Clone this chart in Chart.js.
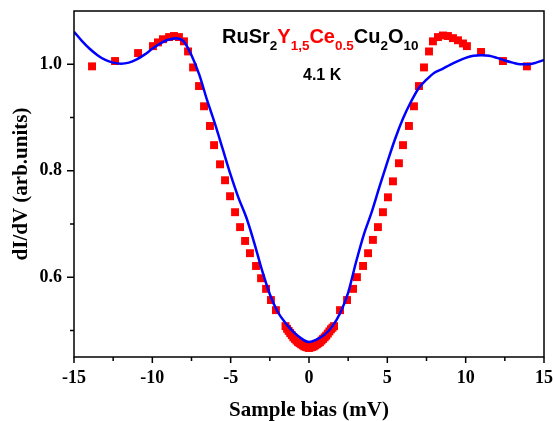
<!DOCTYPE html>
<html>
<head>
<meta charset="utf-8">
<script src="https://cdn.jsdelivr.net/npm/chart.js@4/dist/chart.umd.min.js"></script>
<style>
  html, body { margin: 0; padding: 0; background: #fff; }
  canvas { display: block; }
</style>
</head>
<body>
<canvas id="didv" width="553" height="421"></canvas>
<script>
// measured tunnelling conductance (red squares)
const measBias = [
  -13.85, -12.38, -10.91, -9.96, -9.64, -9.32, -8.93, -8.62, -8.30, -7.98,
  -7.72, -7.40, -7.02, -6.70, -6.32, -6.06, -5.68, -5.36, -5.04, -4.72,
  -4.40, -4.08, -3.77, -3.38, -3.06, -2.74, -2.43, -2.11,
  -1.5, -1.4, -1.3, -1.2, -1.1, -1.0, -0.9, -0.8, -0.7, -0.6, -0.5, -0.4,
  -0.3, -0.2, -0.1, 0.0, 0.1, 0.2, 0.3, 0.4, 0.5, 0.6, 0.7, 0.8, 0.9, 1.0,
  1.1, 1.2, 1.3, 1.4, 1.5, 1.6,
  1.98, 2.43, 2.81, 3.06, 3.45, 3.77, 4.08, 4.40, 4.72, 5.04, 5.36, 5.74,
  6.00, 6.38, 6.70, 7.02, 7.34, 7.66, 7.91, 8.23, 8.55, 8.87, 9.19, 9.51,
  9.83, 10.08, 10.98, 12.38, 13.91
];
const measDidv = [
  0.996, 1.006, 1.021, 1.034, 1.041, 1.047, 1.051, 1.053, 1.051, 1.043,
  1.024, 0.994, 0.959, 0.921, 0.884, 0.848, 0.812, 0.782, 0.752, 0.722,
  0.694, 0.668, 0.645, 0.621, 0.598, 0.578, 0.557, 0.538,
  0.508, 0.503, 0.499, 0.495, 0.491, 0.487, 0.484, 0.481, 0.478, 0.476, 0.474, 0.472,
  0.470, 0.469, 0.468, 0.467, 0.468, 0.469, 0.470, 0.472, 0.474, 0.476, 0.478, 0.481, 0.484, 0.487,
  0.490, 0.494, 0.498, 0.502, 0.505, 0.508,
  0.538, 0.557, 0.578, 0.600, 0.621, 0.645, 0.670, 0.694, 0.722, 0.750, 0.780, 0.814,
  0.848, 0.884, 0.921, 0.959, 0.994, 1.024, 1.043, 1.051, 1.054, 1.053, 1.049, 1.045,
  1.039, 1.034, 1.023, 1.006, 0.996
];

// fitted curve (blue line)
const fitBias = [
  -15, -14.5, -14, -13.5, -13, -12.5, -12, -11.5, -11, -10.5, -10, -9.5, -9, -8.5,
  -8, -7.5, -7, -6.5, -6, -5.5, -5, -4.5, -4, -3.5, -3, -2.5, -2, -1.5, -1, -0.5,
  0, 0.5, 1, 1.5, 2, 2.5, 3, 3.5, 4, 4.5, 5, 5.5, 6, 6.5, 7, 7.5, 8, 8.5, 9, 9.5,
  10, 10.5, 11, 11.5, 12, 12.5, 13, 13.5, 14, 14.5, 15
];
const fitDidv = [
  1.061, 1.044, 1.029, 1.017, 1.008, 1.003, 1.001, 1.003, 1.009, 1.018, 1.029, 1.039, 1.046, 1.049,
  1.043, 1.017, 0.980, 0.932, 0.888, 0.840, 0.792, 0.749, 0.712, 0.665, 0.613, 0.568, 0.535, 0.514, 0.497, 0.485,
  0.478, 0.483, 0.492, 0.508, 0.533, 0.571, 0.628, 0.680, 0.722, 0.770, 0.816, 0.860, 0.898, 0.929, 0.955, 0.971,
  0.984, 0.991, 0.999, 1.006, 1.012, 1.016, 1.017, 1.016, 1.012, 1.007, 1.003, 1.000, 1.000, 1.003, 1.008
];

// ticks: empty label = minor tick
const xTickVals = [-15, -12.5, -10, -7.5, -5, -2.5, 0, 2.5, 5, 7.5, 10, 12.5, 15];
const xTickLabels = ['-15', '', '-10', '', '-5', '', '0', '', '5', '', '10', '', '15'];
const yTickVals = [0.5, 0.6, 0.7, 0.8, 0.9, 1.0];
const yTickLabels = ['', '0.6', '', '0.8', '', '1.0'];

const RED = '#ff0000';
const BLUE = '#0000ff';
const serif = 'Liberation Serif, Times New Roman, serif';
const sans = 'Liberation Sans, Arial, sans-serif';

const toPoints = (xs, ys) => xs.map((v, i) => ({x: v, y: ys[i]}));

// box around the plot + outward tick marks on bottom/left
const frameTicks = {
  id: 'frameTicks',
  afterDraw(chart) {
    const {ctx, chartArea: a, scales: {x, y}} = chart;
    ctx.save();
    ctx.strokeStyle = '#000';
    ctx.lineWidth = 1.5;
    ctx.strokeRect(a.left, a.top, a.right - a.left, a.bottom - a.top);
    ctx.beginPath();
    xTickVals.forEach((v, i) => {
      const px = x.getPixelForValue(v);
      ctx.moveTo(px, a.bottom);
      ctx.lineTo(px, a.bottom + (xTickLabels[i] ? 6 : 4));
    });
    yTickVals.forEach((v, i) => {
      const py = y.getPixelForValue(v);
      ctx.moveTo(a.left, py);
      ctx.lineTo(a.left - (yTickLabels[i] ? 7 : 4), py);
    });
    ctx.stroke();
    ctx.restore();
  }
};

// compound formula and temperature
const formula = [
  ['RuSr', '#000', false], ['2', '#000', true],
  ['Y', RED, false], ['1,5', RED, true],
  ['Ce', RED, false], ['0.5', RED, true],
  ['Cu', '#000', false], ['2', '#000', true],
  ['O', '#000', false], ['10', '#000', true]
];
const labelPlugin = {
  id: 'labels',
  afterDraw(chart) {
    const {ctx, chartArea: a} = chart;
    ctx.save();
    ctx.textBaseline = 'alphabetic';
    ctx.textAlign = 'left';
    let cx = a.left + 148;
    const base = a.top + 32;
    formula.forEach(([t, col, sub]) => {
      ctx.font = sub ? `bold 13.5px ${sans}` : `bold 20px ${sans}`;
      ctx.fillStyle = col;
      ctx.fillText(t, cx, sub ? base + 7 : base);
      cx += ctx.measureText(t).width;
    });
    ctx.font = `bold 16px ${sans}`;
    ctx.fillStyle = '#000';
    ctx.fillText('4.1 K', a.left + 229, a.top + 69);
    ctx.restore();
  }
};

new Chart(document.getElementById('didv'), {
  type: 'scatter',
  data: {
    datasets: [
      {
        label: 'fit',
        data: toPoints(fitBias, fitDidv),
        showLine: true,
        borderColor: BLUE,
        borderWidth: 2.5,
        pointRadius: 0,
        cubicInterpolationMode: 'monotone',
        order: 0
      },
      {
        label: 'data',
        data: toPoints(measBias, measDidv),
        pointStyle: 'rect',
        pointRadius: 5.6,
        pointBorderWidth: 0,
        backgroundColor: RED,
        borderColor: RED,
        order: 1
      }
    ]
  },
  options: {
    responsive: false,
    animation: false,
    layout: { padding: { top: 11, right: 9, left: 0, bottom: 0 } },
    plugins: { legend: { display: false }, tooltip: { enabled: false } },
    scales: {
      x: {
        type: 'linear',
        min: -15,
        max: 15,
        afterBuildTicks: (s) => { s.ticks = xTickVals.map(v => ({value: v})); },
        afterFit: (s) => { s.height = 64; s.paddingLeft = 0; s.paddingRight = 0; },
        grid: { display: false, drawTicks: false },
        border: { display: false },
        ticks: {
          padding: 12,
          maxRotation: 0,
          autoSkip: false,
          color: '#000',
          font: { family: serif, size: 18, weight: 'bold', lineHeight: 1 },
          callback: (v, i) => xTickLabels[i]
        },
        title: {
          display: true,
          text: 'Sample bias (mV)',
          color: '#000',
          padding: { top: 0, bottom: 0 },
          font: { family: serif, size: 21, weight: 'bold', lineHeight: 1 }
        }
      },
      y: {
        type: 'linear',
        min: 0.45,
        max: 1.1,
        afterBuildTicks: (s) => { s.ticks = yTickVals.map(v => ({value: v})); },
        afterFit: (s) => { s.width = 74; s.paddingTop = 0; s.paddingBottom = 0; },
        grid: { display: false, drawTicks: false },
        border: { display: false },
        ticks: {
          padding: 12,
          autoSkip: false,
          color: '#000',
          font: { family: serif, size: 18, weight: 'bold', lineHeight: 1 },
          callback: (v, i) => yTickLabels[i]
        },
        title: {
          display: true,
          text: 'dI/dV (arb.units)',
          color: '#000',
          padding: { top: 11.5, bottom: 0 },
          font: { family: serif, size: 21, weight: 'bold', lineHeight: 1 }
        }
      }
    }
  },
  plugins: [frameTicks, labelPlugin]
});
</script>
</body>
</html>
